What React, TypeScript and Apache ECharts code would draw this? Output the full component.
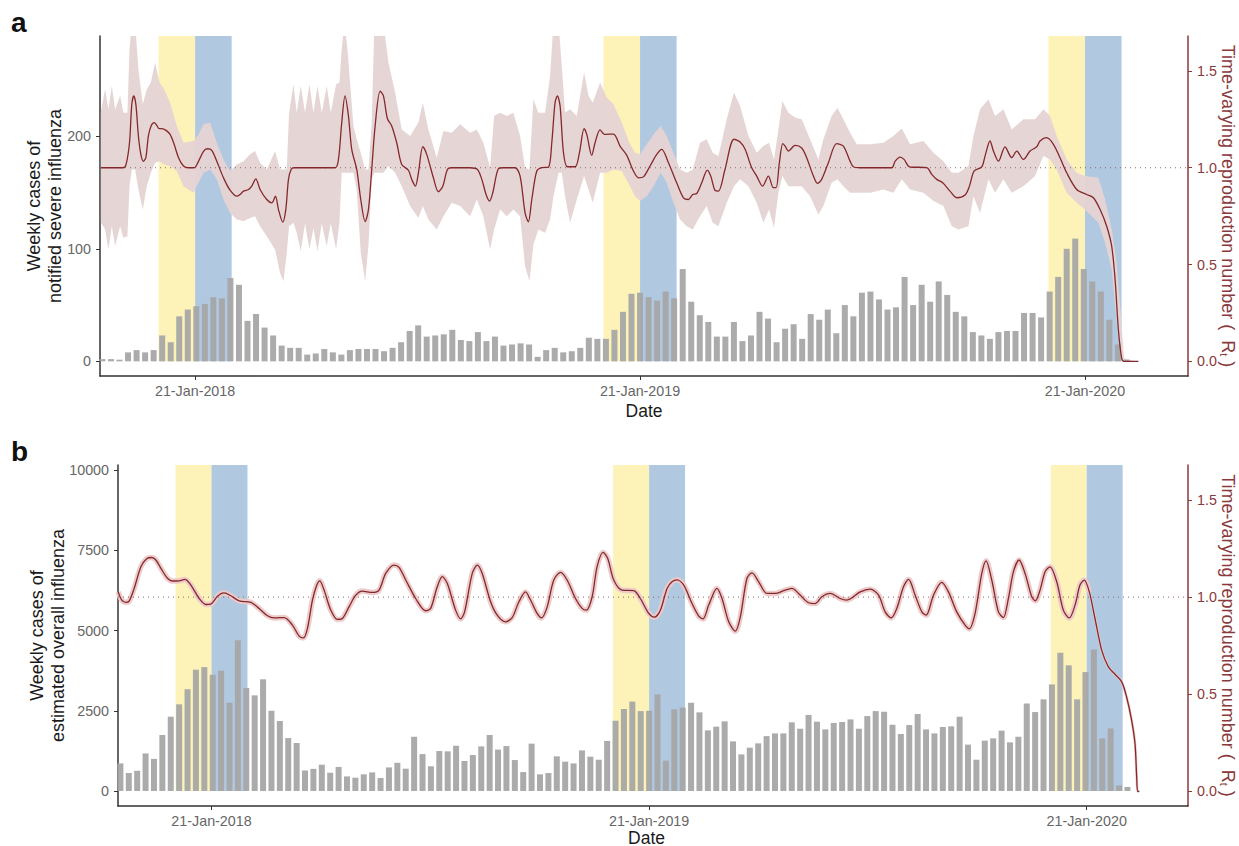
import React, { useEffect, useRef } from "react";
import * as echarts from "echarts";

const DAY = 86400000;
const ANCHOR = Date.UTC(2018, 0, 21);
const tickLabels = ["21-Jan-2018", "21-Jan-2019", "21-Jan-2020"];
const tickDates = [Date.UTC(2018, 0, 21), Date.UTC(2019, 0, 21), Date.UTC(2020, 0, 21)];
const xStartDay = -78;
const xEndDay = 814.5;
const winterStartDays = [-30, 335, 700];
const winterMidDays = [0, 365, 730];
const winterEndDays = [30, 395, 760];

const casesSevere = [2, 2, 1.5, 8, 10, 8, 10, 23, 17, 40, 46, 49, 51, 57, 56, 74, 68, 36, 42, 30, 23, 14, 12, 12, 6, 7, 11, 8, 6, 10, 11, 11, 11, 9, 12, 17, 27, 32, 22, 23, 24, 28, 19, 18, 26,
  18, 22, 14, 15, 16, 15, 4, 10, 12, 8, 9, 12, 21, 20, 20, 28, 44, 60, 61, 57, 54, 62, 56, 82, 53, 41, 35, 22, 22, 35, 18, 23, 44, 38, 17, 29, 33, 20, 42, 37, 46, 25, 50, 40,
  61, 62, 55, 46, 48, 75, 50, 68, 53, 71, 59, 44, 40, 26, 23, 20, 26, 27, 27, 43, 43, 39, 62, 75, 100, 109, 82, 71, 62, 37, 15, 1.5];

const casesOverall = [860, 560, 630, 1170, 1000, 1745, 2315, 2700, 3170, 3780, 3860, 3620, 3750, 2750, 4700, 3210, 2980, 3480, 2500, 2180, 1650, 1495, 640, 690, 820, 570, 750, 455, 415, 520, 580, 405, 735, 880, 695, 1690, 1150, 770, 1245, 1235, 1410, 935, 1120, 1390, 1745,
  1290, 1400, 965, 590, 1475, 520, 560, 1080, 915, 860, 1265, 1070, 975, 1560, 2190, 2555, 2785, 2490, 2500, 3010, 945, 2545, 2600, 2750, 2450, 1890, 2005, 2170, 1545, 1140, 1350, 1485, 1710, 1795, 1795, 2140, 1940, 2370, 2160, 1920, 2120, 2150, 2230, 1940,
  2335, 2490, 2470, 2065, 1775, 2055, 2400, 1920, 1795, 1995, 2015, 2315, 1445, 975, 1570, 1640, 1880, 1515, 1690, 2730, 2460, 2855, 3320, 4310, 3915, 2855, 3705, 4410, 1640, 1950, 175, 125];

const rtSevereDays = [-77.3, -58.8, -56.6, -53.8, -51.9, -50.3, -48.6, -46.5, -44.5, -42.4, -40.4, -38.3, -36.1, -33.6, -31.4, -29.5, -27.3, -23.8, -20.5, -17.2, -13.6, -9.5, -5.4, -0.8, 2.8, 6.9, 10.1, 13.7, 17.8, 23.3, 28.7, 34.2, 36.9, 39.7, 43.8, 46.5, 49.8, 53.3, 58.8, 62.9, 65.9, 68.4, 71.9, 74.4, 76.6, 78.8, 81.2, 114.9, 117.6, 120.3, 123, 125.8, 128.5, 132.6, 135.9, 139.5, 142.2, 144.9, 147.7, 151.8, 154.5, 157.8, 161.3, 165.4, 169.5, 175, 177.7, 180.7, 183.2, 186.8, 190, 195.5, 199.6, 203.2, 207, 210.5, 225.6,
  231.6, 235.2, 238.7, 241.5, 244.2, 248.8, 252.9, 262.5, 266.6, 270.7, 273.4, 276.2, 280.3, 284.4, 289.9, 292.6, 295.3, 297.2, 299.4, 302.2, 305.4, 311.7, 315.3, 319.1, 321.3, 325.4, 328.1, 332.2, 335.8, 343.2, 348.6, 354.1, 359.6, 363.7, 367.8, 373.2, 378.7, 382.8, 388.3, 395.1, 400.6, 404.7, 408.2, 411.5, 415.6, 420.2, 423, 426.5, 429.3, 434.7, 442.1, 447.1, 451.2, 456.6, 460.7, 465.6, 470.3, 474.4, 476.6, 479.3, 482.1, 484, 486.7, 492.2, 497.6, 501.7, 507.2, 510.5, 514, 519.5, 526.3, 531.8, 537.3,
  540, 545.5, 571.5, 574.2, 578.3, 581.6, 586, 600.2, 604.3, 608.4, 613.3, 619.3, 624.8, 631.6, 635.2, 639, 645.3, 648, 652.1, 654.9, 659, 664.4, 669.9, 674, 679.5, 684.9, 690.4, 693.1, 698.6, 704.1, 709.5, 715, 723.2, 731.4, 736.9, 742.4, 747.8, 751.9, 754.7, 757.4, 760.1, 762, 773.8];
const rtSevere = [1, 1, 1.017, 1.129, 1.328, 1.371, 1.328, 1.164, 1.069, 1.033, 1.052, 1.164, 1.216, 1.233, 1.219, 1.202, 1.202, 1.193, 1.172, 1.121, 1.052, 1.009, 1, 1, 1.033, 1.085, 1.098, 1.09, 1.033, 0.948, 0.884, 0.853, 0.862, 0.879, 0.888, 0.905, 0.943, 0.888, 0.836, 0.819, 0.853, 0.784, 0.719, 0.784, 0.94, 0.991, 1, 1, 1.043, 1.233, 1.371, 1.267, 1.095, 0.991, 0.836, 0.722, 0.784, 0.991, 1.216, 1.395, 1.371, 1.253, 1.216, 1.129, 1.017, 0.987, 0.94, 0.905, 0.974, 1.109, 1.069, 0.948, 0.876, 0.905, 0.991, 1, 1,
  0.991, 0.94, 0.862, 0.828, 0.871, 0.995, 1, 1, 0.957, 0.767, 0.721, 0.836, 0.983, 1, 1.003, 1.129, 1.336, 1.371, 1.319, 1.078, 1.005, 1.005, 1.078, 1.202, 1.172, 1.064, 1.129, 1.195, 1.172, 1.174, 1.112, 1.064, 0.983, 0.948, 0.953, 1.009, 1.069, 1.095, 1.026, 0.922, 0.845, 0.836, 0.862, 0.867, 0.922, 0.988, 0.957, 0.883, 0.879, 0.991, 1.147, 1.133, 1.095, 1, 0.957, 0.905, 0.957, 0.897, 0.897, 1.026, 1.124, 1.112, 1.086, 1.115, 1.102, 1.052, 0.957, 0.919, 0.94, 1.026, 1.124, 1.112, 1.034,
  1.005, 1, 1, 1.033, 1.055, 1.043, 1.005, 1, 0.966, 0.94, 0.922, 0.879, 0.845, 0.859, 0.905, 0.983, 1.005, 1.06, 1.138, 1.086, 1.034, 1.108, 1.052, 1.086, 1.043, 1.086, 1.108, 1.138, 1.155, 1.121, 1.052, 0.974, 0.888, 0.862, 0.845, 0.784, 0.698, 0.595, 0.422, 0.164, 0.017, 0, 0];

const bandSevereDays = [-77.3, -73.8, -71.1, -68.3, -65.6, -61.5, -58.8, -55.5, -53.8, -51.9, -49.2, -46.5, -42.9, -39.6, -36.3, -32.8, -29.2, -25.4, -20.5, -15, -9.5, -1.3, 2.8, 6.9, 12.3, 17.8, 23.3, 28.7, 34.2, 39.7, 45.1, 49.2, 53.3, 58.8, 65.6, 69.7, 72.5, 75.2, 77.1, 80.7, 83.4, 86.7, 90.2, 93.8, 97.1, 100.4, 103.9, 108, 111.3, 115.7, 118.4, 120.3, 122.5, 125, 129.9, 132.6, 135.9, 139.5, 142.2, 144.9, 147.1, 154.5, 158.6, 164.1, 169.5, 176.4, 183.2, 186.8, 191.4, 198.2, 203.7, 210.5, 217.4, 225.6,
  231.1, 236.5, 242, 245.3, 250.2, 255.7, 261.1, 266.6, 270.7, 274.3, 277.5, 281.6, 287.1, 291.2, 294, 298.1, 300.8, 303.5, 307.6, 313.1, 319.1, 322.7, 326.2, 332.2, 337.7, 343.2, 350, 356.8, 360.9, 365, 370.5, 376, 382, 386.9, 392.4, 397.8, 403.3, 408.2, 414.2, 419.7, 424.6, 429.3, 436.1, 442.1, 447.1, 453.9, 460.7, 466.2, 470.8, 474.9, 478.5, 481.8, 486.7, 492.2, 497.6, 504.5, 511.3, 515.4, 522.2, 526.9, 531.8, 537.3,
  542.8, 553.7, 564.6, 572.8, 579.7, 586.5, 597.5, 605.7, 613.9, 620.7, 626.2, 634.4, 638.5, 643.9, 650.8, 656.2, 663.1, 669.9, 679.5, 689, 695.9, 701.3, 706.8, 715, 723.2, 730, 741, 746.5, 752, 756, 759.3, 762, 772.4];
const bandSevereHigh = [1.288, 1.405, 1.302, 1.422, 1.302, 1.371, 1.284, 1.284, 1.612, 1.75, 1.75, 1.509, 1.328, 1.405, 1.44, 1.543, 1.44, 1.405, 1.336, 1.216, 1.129, 1.138, 1.172, 1.224, 1.233, 1.129, 1.043, 0.983, 1.017, 1.034, 1.069, 1.086, 1.026, 0.991, 1.086, 0.991, 0.991, 0.991, 1.284, 1.431, 1.284, 1.422, 1.284, 1.431, 1.284, 1.422, 1.284, 1.422, 1.284, 1.431, 1.44, 1.612, 1.75, 1.612, 1.216, 1.147, 1.078, 0.991, 0.991, 1.233, 1.75, 1.75, 1.543, 1.388, 1.198, 1.164, 1.233, 1.336, 1.198, 1.052, 1.19, 1.181, 1.224, 1.181,
  1.198, 1.129, 1, 1.267, 1.284, 1.267, 1.284, 1.164, 1, 0.991, 1.353, 1.284, 1.284, 1.474, 1.75, 1.75, 1.526, 1.284, 1.302, 1.267, 1.491, 1.371, 1.336, 1.44, 1.362, 1.328, 1.233, 1.121, 1.078, 1.069, 1.121, 1.172, 1.216, 1.164, 1.078, 0.991, 0.974, 0.991, 1.129, 1.147, 1.078, 1.06, 1.25, 1.388, 1.319, 1.164, 1.078, 1.112, 1.129, 1.043, 1.198, 1.345, 1.284, 1.259, 1.25, 1.147, 1.043, 1.147, 1.267, 1.31, 1.25, 1.181,
  1.121, 1.121, 1.129, 1.164, 1.202, 1.121, 1.138, 1.078, 1.034, 0.974, 0.974, 1.009, 1.164, 1.302, 1.353, 1.267, 1.302, 1.198, 1.25, 1.25, 1.302, 1.267, 1.164, 1.043, 0.974, 0.957, 0.948, 0.836, 0.681, 0.509, 0.25, 0.017, 0];
const bandSevereLow = [0.719, 0.681, 0.579, 0.698, 0.595, 0.698, 0.638, 0.647, 0.905, 0.991, 0.991, 0.888, 0.784, 0.905, 0.974, 1.026, 1.034, 1.017, 1.009, 0.983, 0.905, 0.871, 0.922, 0.974, 0.991, 0.94, 0.836, 0.767, 0.733, 0.724, 0.741, 0.75, 0.698, 0.647, 0.578, 0.457, 0.414, 0.56, 0.698, 0.716, 0.664, 0.569, 0.712, 0.578, 0.688, 0.569, 0.712, 0.595, 0.712, 0.578, 0.716, 0.974, 0.974, 0.974, 0.974, 0.888, 0.56, 0.414, 0.595, 0.94, 0.974, 0.974, 1.009, 0.974, 0.905, 0.802, 0.741, 0.802, 0.733, 0.681, 0.75, 0.819, 0.802, 0.75,
  0.836, 0.75, 0.578, 0.681, 0.784, 0.75, 0.784, 0.75, 0.491, 0.414, 0.603, 0.681, 0.664, 0.733, 0.853, 0.974, 0.974, 0.853, 0.716, 0.836, 0.957, 0.888, 0.819, 0.974, 0.974, 0.991, 0.983, 0.905, 0.853, 0.828, 0.853, 0.905, 0.974, 0.922, 0.819, 0.733, 0.698, 0.681, 0.75, 0.802, 0.716, 0.698, 0.819, 0.905, 0.94, 0.905, 0.819, 0.716, 0.784, 0.69, 0.871, 0.957, 0.905, 0.905, 0.905, 0.853, 0.759, 0.802, 0.922, 0.94, 0.905, 0.871,
  0.871, 0.871, 0.888, 0.871, 0.94, 0.888, 0.871, 0.828, 0.802, 0.698, 0.681, 0.698, 0.853, 0.767, 0.94, 0.871, 0.94, 0.871, 0.905, 0.957, 1.06, 1.043, 0.991, 0.871, 0.819, 0.784, 0.716, 0.612, 0.474, 0.198, 0.026, 0, 0];

const rtOverallDays = [-77.8, -75, -71.4, -68.6, -64.5, -58.9, -53.9, -50, -46.4, -42.2, -36.7, -32.5, -27, -22.2, -17.2, -10.3, -4.7, -0.6, 5, 10.5, 16.1, 23.1, 32.8, 39.7, 46.7, 52.2, 60.6, 67.5, 73.1, 76.7, 80, 84.2, 87.8, 90.3, 93.9, 99.5, 105, 109.2, 114.7, 120.3, 125.8, 134.2, 139.7, 145.3, 152.2, 156.4, 162, 170.3, 178.6, 182.8, 188.3, 192.5, 196.7, 203.6, 207.8, 211.1, 217.5, 221.7, 225.8, 232.8,
  238.3, 245.2, 250.8, 256.4, 261.9, 266.1, 271.6, 275.2, 280, 285.5, 291.1, 296.6, 303.6, 309.1, 312.7, 317.5, 321.6, 326.6, 330.5, 335.5, 342.5, 352.2, 357.7, 364.7, 369.4, 374.4, 380, 384.1, 388.3, 393.9, 400.8, 406.4, 410, 414.7, 421.6, 425.8, 431.4, 436.9, 441.1, 446.6, 450.8, 456.4, 463.3, 470.3, 477.2, 484.1, 489.7, 498, 503.6, 509.1, 516.1, 524.4, 530, 541.1,
  549.4, 556.4, 561.9, 566.9, 571.6, 577.2, 581.4, 586.9, 592.5, 596.1, 602.2, 609.1, 614.7, 621.6, 628.6, 632.2, 636.9, 642.5, 646.1, 650.8, 656.4, 660.5, 664.7, 668.9, 673.6, 678.6, 684.2, 687.2, 691.1, 695.3, 699.4, 705, 710.5, 715.5, 720.3, 724.4, 728, 732.2, 736.9, 742.5, 748.1, 753.6, 759.2, 763.3, 767.5, 770.3, 771.7, 772.5, 773.9];
const rtOverall = [1.027, 0.986, 0.973, 0.981, 1.045, 1.156, 1.199, 1.204, 1.191, 1.148, 1.097, 1.083, 1.084, 1.091, 1.062, 0.993, 0.962, 0.964, 1.005, 1.022, 1.007, 0.981, 0.973, 0.942, 0.904, 0.893, 0.895, 0.856, 0.799, 0.79, 0.838, 0.984, 1.062, 1.084, 1.036, 0.933, 0.885, 0.89, 0.95, 1.01, 1.031, 1.024, 1.036, 1.122, 1.165, 1.153, 1.088, 0.993, 0.93, 0.942, 1.053, 1.105, 1.07, 0.933, 0.888, 0.924, 1.122, 1.165, 1.122, 0.976,
  0.907, 0.873, 0.895, 0.976, 1.027, 0.985, 0.916, 0.893, 0.95, 1.088, 1.127, 1.088, 0.993, 0.942, 0.933, 1.002, 1.156, 1.23, 1.199, 1.088, 1.036, 1.033, 0.993, 0.916, 0.897, 0.933, 1.045, 1.079, 1.089, 1.062, 0.967, 0.902, 0.888, 0.959, 1.045, 0.993, 0.873, 0.825, 0.899, 1.096, 1.125, 1.079, 1.019, 1.019, 1.033, 1.045, 1.019, 0.971, 0.967, 1.002, 1.019, 0.993, 0.985, 1.027,
  1.041, 1.01, 0.924, 0.893, 0.942, 1.053, 1.091, 1.01, 0.924, 0.907, 1.01, 1.076, 1.027, 0.924, 0.856, 0.837, 0.916, 1.122, 1.187, 1.088, 0.924, 0.895, 0.993, 1.131, 1.191, 1.122, 1.002, 0.981, 1.036, 1.131, 1.156, 1.079, 0.933, 0.893, 0.959, 1.062, 1.088, 1.027, 0.89, 0.727, 0.641, 0.603, 0.564, 0.486, 0.366, 0.246, 0.074, 0, 0];

const FONT = "'Liberation Sans', Arial, sans-serif";
const RT_RED = "#8a3a3c";
const LINE_RED = "#85282c";
const RIBBON = "#e5d3d3";
const GRAY_TEXT = "#666666";
const AXIS_DARK = "#333333";
const BAR = "#a6a6a6";

const toMs = (d: number) => ANCHOR + d * DAY;
const pairs = (days: number[], vals: number[]) => days.map((d, i) => [toMs(d), vals[i]]);
const barDay = (i: number) => (i - 11) * 7 + 1;

function xAxisFor(gridIndex: number, namePadding: number[], nameGap: number) {
  return {
    type: "value", gridIndex, min: toMs(xStartDay), max: toMs(xEndDay),
    name: "Date", nameLocation: "middle", nameGap, nameMoveOverlap: false,
    nameTextStyle: { fontFamily: FONT, fontSize: 17.5, lineHeight: 15, color: "#1a1a1a", padding: namePadding },
    splitLine: { show: false },
    axisLine: { onZero: false, lineStyle: { color: AXIS_DARK, width: 1.5 } },
    axisTick: { show: true, length: 4, customValues: tickDates, lineStyle: { color: AXIS_DARK, width: 1 } },
    axisLabel: {
      customValues: tickDates, fontFamily: FONT, fontSize: 14.3, color: GRAY_TEXT, margin: 8, hideOverlap: false,
      formatter: (v: number) => tickLabels[tickDates.indexOf(v)] ?? "",
    },
  };
}

function leftAxis(gridIndex: number, min: number, max: number, ticks: number[], name: string, gap: number) {
  return {
    type: "value", gridIndex, position: "left", min, max, name, nameLocation: "middle", nameGap: gap, nameMoveOverlap: false,
    nameTextStyle: { fontFamily: FONT, fontSize: 18, color: "#1a1a1a", lineHeight: 21 },
    splitLine: { show: false },
    axisLine: { show: true, onZero: false, lineStyle: { color: AXIS_DARK, width: 1.5 } },
    axisTick: { show: true, length: 4, customValues: ticks, lineStyle: { color: AXIS_DARK, width: 1 } },
    axisLabel: { customValues: ticks, fontFamily: FONT, fontSize: 14.3, color: GRAY_TEXT, margin: 9, formatter: (v: number) => String(v) },
  };
}

function rightAxis(gridIndex: number) {
  const ticks = [0, 0.5, 1, 1.5];
  return {
    type: "value", gridIndex, position: "right", min: -0.075, max: 1.68,
    name: "Time-varying reproduction number\u00a0( \u00a0R{t|t}\u00a0)", nameLocation: "middle", nameGap: 30, nameRotate: -90, nameMoveOverlap: false,
    nameTextStyle: {
      fontFamily: FONT, fontSize: 18, color: RT_RED,
      rich: { t: { fontFamily: FONT, fontSize: 11, color: RT_RED, verticalAlign: "bottom", padding: [8, 0, 0, 0] } },
    },
    splitLine: { show: false },
    axisLine: { show: true, onZero: false, lineStyle: { color: RT_RED, width: 1.5 } },
    axisTick: { show: true, length: 4, customValues: ticks, lineStyle: { color: RT_RED, width: 1 } },
    axisLabel: { customValues: ticks, fontFamily: FONT, fontSize: 14.3, color: RT_RED, margin: 9, formatter: (v: number) => v.toFixed(1) },
  };
}

function winterAreas(top: number) {
  const areas: any[] = [];
  winterStartDays.forEach((s, i) => {
    areas.push([
      { xAxis: toMs(s), yAxis: 0, itemStyle: { color: "#fdf2b8" } },
      { xAxis: toMs(winterMidDays[i]), yAxis: top },
    ]);
    areas.push([
      { xAxis: toMs(winterMidDays[i]), yAxis: 0, itemStyle: { color: "#b0c9e1" } },
      { xAxis: toMs(winterEndDays[i]), yAxis: top },
    ]);
  });
  return areas;
}

function barSeries(index: number, vals: number[], top: number) {
  return {
    type: "bar", xAxisIndex: index, yAxisIndex: index * 2, barWidth: 6, z: 4, silent: true,
    itemStyle: { color: BAR, opacity: 0.95 },
    data: vals.map((v, i) => [toMs(barDay(i)), v]),
    markArea: { silent: true, z: 1, itemStyle: { opacity: 1 }, label: { show: false }, data: winterAreas(top) },
  };
}

function dottedSeries(index: number) {
  return {
    type: "line", xAxisIndex: index, yAxisIndex: index * 2 + 1, symbol: "none", z: 5, silent: true,
    lineStyle: { color: "#8c6668", width: 1, type: [1, 4] },
    data: [[toMs(xStartDay), 1], [toMs(xEndDay), 1]],
  };
}

function renderRibbon(params: any, api: any) {
  if (params.dataIndex !== 0) return null;
  const upper: number[][] = [];
  const lower: number[][] = [];
  for (let i = 0; i < params.dataInsideLength; i++) {
    const x = api.value(0, i);
    lower.push(api.coord([x, api.value(1, i)]));
    upper.push(api.coord([x, api.value(2, i)]));
  }
  return {
    type: "polygon",
    shape: { points: upper.concat(lower.reverse()) },
    style: { fill: RIBBON, opacity: 0.96 },
    silent: true,
  };
}

const RIBBON_SPLIT = rtOverallDays.indexOf(732.2);

export default function App() {
  const ref = useRef<HTMLDivElement>(null);
  useEffect(() => {
    document.body.style.margin = "0";
    const chart = echarts.init(ref.current!, undefined, { renderer: "svg" });
    chart.setOption({
      animation: false,
      backgroundColor: "#ffffff",
      grid: [
        { left: 100, top: 36, width: 1088, height: 340, outerBoundsMode: "none" },
        { left: 118, top: 465, width: 1070, height: 341, outerBoundsMode: "none" },
      ],
      xAxis: [xAxisFor(0, [0, 0, 0, 0], 27), xAxisFor(1, [0, 13, 0, 0], 24)],
      yAxis: [
        leftAxis(0, -13, 289, [0, 100, 200], "Weekly cases of\nnotified severe influenza", 35),
        rightAxis(0),
        leftAxis(1, -467, 10156, [0, 2500, 5000, 7500, 10000], "Weekly cases of\nestimated overall influenza", 50),
        rightAxis(1),
      ],
      graphic: [
        { type: "text", x: 11, y: 36, style: { text: "a", font: `bold 28px ${FONT}`, fill: "#111", textVerticalAlign: "bottom" } },
        { type: "text", x: 11, y: 465, style: { text: "b", font: `bold 28px ${FONT}`, fill: "#111", textVerticalAlign: "bottom" } },
      ],
      series: [
        barSeries(0, casesSevere, 289),
        {
          type: "custom", xAxisIndex: 0, yAxisIndex: 1, silent: true, z: 2, clip: true,
          renderItem: renderRibbon, encode: { x: 0, y: [1, 2] },
          data: bandSevereDays.map((d, i) => [toMs(d), bandSevereLow[i], bandSevereHigh[i]]),
        },
        dottedSeries(0),
        {
          type: "line", xAxisIndex: 0, yAxisIndex: 1, symbol: "none", silent: true, smooth: 0.3, z: 6,
          lineStyle: { color: LINE_RED, width: 1.3 },
          data: pairs(rtSevereDays, rtSevere),
        },
        barSeries(1, casesOverall, 10156),
        {
          type: "line", xAxisIndex: 1, yAxisIndex: 3, symbol: "none", silent: true, smooth: 0.3, z: 3,
          lineStyle: { color: "#ecc9c9", width: 5.5, opacity: 0.95 },
          data: pairs(rtOverallDays, rtOverall).slice(0, RIBBON_SPLIT + 1),
        },
        {
          type: "line", xAxisIndex: 1, yAxisIndex: 3, symbol: "none", silent: true, smooth: 0.3, z: 3,
          lineStyle: { color: "#ecc9c9", width: 2.6, opacity: 0.95 },
          data: pairs(rtOverallDays, rtOverall).slice(RIBBON_SPLIT),
        },
        dottedSeries(1),
        {
          type: "line", xAxisIndex: 1, yAxisIndex: 3, symbol: "none", silent: true, smooth: 0.3, z: 6,
          lineStyle: { color: LINE_RED, width: 1.3 },
          data: pairs(rtOverallDays, rtOverall),
        },
      ],
    });
    return () => chart.dispose();
  }, []);
  return <div ref={ref} style={{ width: 1239, height: 846 }} />;
}
